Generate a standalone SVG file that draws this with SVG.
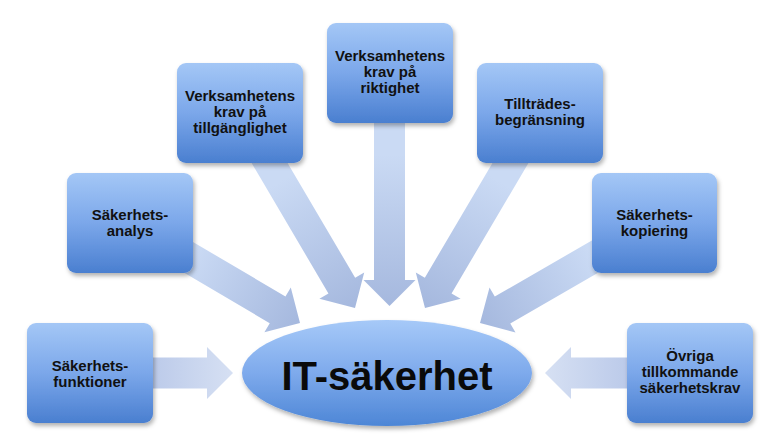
<svg xmlns="http://www.w3.org/2000/svg" width="776" height="447" viewBox="0 0 776 447">
<defs>
<linearGradient id="boxg" x1="0" y1="0" x2="0" y2="1">
<stop offset="0" stop-color="#a4c7f6"/>
<stop offset="0.5" stop-color="#7ba7ea"/>
<stop offset="1" stop-color="#4a7fd0"/>
</linearGradient>
<linearGradient id="ellg" x1="0" y1="0" x2="0" y2="1">
<stop offset="0" stop-color="#a6c9f8"/>
<stop offset="0.5" stop-color="#7eaaec"/>
<stop offset="1" stop-color="#4d86d6"/>
</linearGradient>
<linearGradient id="fang" x1="0" y1="0" x2="1" y2="0">
<stop offset="0.35" stop-color="#cadaf4"/>
<stop offset="1" stop-color="#a5b8de"/>
</linearGradient>
<linearGradient id="sideg" x1="0" y1="0" x2="1" y2="0">
<stop offset="0.4" stop-color="#bac9e9"/>
<stop offset="1" stop-color="#d6e0f3"/>
</linearGradient>
<filter id="sh" x="-10%" y="-10%" width="125%" height="130%">
<feDropShadow dx="1.5" dy="3" stdDeviation="2" flood-color="#000" flood-opacity="0.3"/>
</filter>
</defs>
<style>
.box{fill:url(#boxg);filter:url(#sh);}
.t{font-family:"Liberation Sans",Arial,sans-serif;font-weight:bold;font-size:15px;fill:#111;text-anchor:middle;}
.big{font-family:"Liberation Sans",Arial,sans-serif;font-weight:bold;font-size:40px;fill:#0a0a0a;text-anchor:middle;}
</style>
<rect width="776" height="447" fill="#ffffff"/>
<g id="connectors">
<path d="M-143,-15.5 L-26,-15.5 L-26,-26 L0,0 L-26,26 L-26,15.5 L-143,15.5 Z" fill="url(#sideg)" transform="translate(233,373)"/>
<path d="M-197,-15.5 L-26,-15.5 L-26,-26 L0,0 L-26,26 L-26,15.5 L-197,15.5 Z" fill="url(#fang)" transform="translate(300,323) rotate(30.5)"/>
<path d="M-226,-15.5 L-26,-15.5 L-26,-26 L0,0 L-26,26 L-26,15.5 L-226,15.5 Z" fill="url(#fang)" transform="translate(355,308) rotate(59.5)"/>
<path d="M-233,-15.5 L-26,-15.5 L-26,-26 L0,0 L-26,26 L-26,15.5 L-233,15.5 Z" fill="url(#fang)" transform="translate(389.5,306) rotate(90)"/>
<path d="M-226,-15.5 L-26,-15.5 L-26,-26 L0,0 L-26,26 L-26,15.5 L-226,15.5 Z" fill="url(#fang)" transform="translate(425,308) rotate(120.5)"/>
<path d="M-201,-15.5 L-26,-15.5 L-26,-26 L0,0 L-26,26 L-26,15.5 L-201,15.5 Z" fill="url(#fang)" transform="translate(480,323) rotate(150)"/>
<path d="M-145,-15.5 L-26,-15.5 L-26,-26 L0,0 L-26,26 L-26,15.5 L-145,15.5 Z" fill="url(#sideg)" transform="translate(545,373) rotate(180)"/>
</g>
<g id="n-funktioner">
<rect class="box" x="27" y="323" width="126" height="100" rx="9"/>
<text class="t" x="90" y="371">Säkerhets-</text>
<text class="t" x="90" y="387">funktioner</text>
</g>
<g id="n-analys">
<rect class="box" x="67" y="173" width="126" height="100" rx="9"/>
<text class="t" x="130" y="220">Säkerhets-</text>
<text class="t" x="130" y="236">analys</text>
</g>
<g id="n-tillganglighet">
<rect class="box" x="177" y="63" width="126" height="100" rx="9"/>
<text class="t" x="240" y="101">Verksamhetens</text>
<text class="t" x="240" y="117">krav på</text>
<text class="t" x="240" y="133">tillgänglighet</text>
</g>
<g id="n-riktighet">
<rect class="box" x="327" y="23" width="126" height="100" rx="9"/>
<text class="t" x="390" y="61">Verksamhetens</text>
<text class="t" x="390" y="77">krav på</text>
<text class="t" x="390" y="93">riktighet</text>
</g>
<g id="n-tilltrade">
<rect class="box" x="477" y="63" width="126" height="100" rx="9"/>
<text class="t" x="540" y="109">Tillträdes-</text>
<text class="t" x="540" y="125">begränsning</text>
</g>
<g id="n-kopiering">
<rect class="box" x="592" y="173" width="125" height="100" rx="9"/>
<text class="t" x="654.5" y="220">Säkerhets-</text>
<text class="t" x="654.5" y="236">kopiering</text>
</g>
<g id="n-ovriga">
<rect class="box" x="627" y="323" width="126" height="100" rx="9"/>
<text class="t" x="690" y="361">Övriga</text>
<text class="t" x="690" y="377">tillkommande</text>
<text class="t" x="690" y="393">säkerhetskrav</text>
</g>
<g id="n-it">
<ellipse cx="387" cy="373" rx="145" ry="53" fill="url(#ellg)" filter="url(#sh)"/>
<text class="big" x="387" y="390">IT-säkerhet</text>
</g>
</svg>
